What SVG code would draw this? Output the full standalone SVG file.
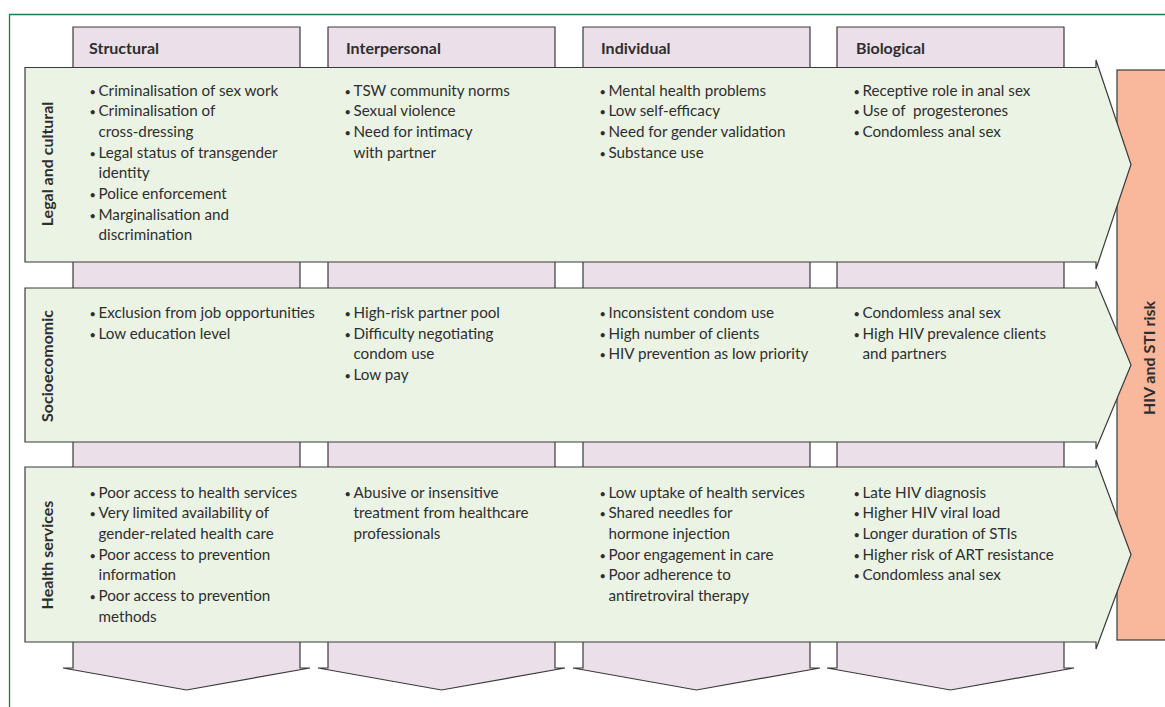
<svg xmlns="http://www.w3.org/2000/svg" width="1165" height="707" viewBox="0 0 1165 707">
<style>
.frame{fill:none;stroke:#1a7d50;stroke-width:1.3}
.col{fill:#ebdfe9;stroke:#3a3a3a;stroke-width:1.2}
.row{fill:#ebf3e5;stroke:#3a3a3a;stroke-width:1.2}
.risk{fill:#f9b89c;stroke:#3a3a3a;stroke-width:1.2}
.t{font-family:Lato,"Open Sans","Liberation Sans",sans-serif;font-size:15.2px;fill:#2e2e2e}
.b{font-size:11px}
.h{font-family:Lato,"Open Sans","Liberation Sans",sans-serif;font-size:16px;font-weight:bold;fill:#2e2e2e}
</style>
<rect width="1165" height="707" fill="#fff"/>
<path class="frame" d="M9.5,707 V14.5 H1165"/>
<g id="columns">
<g id="col-structural"><polygon class="col" points="73,27 300,27 300,668 310,668 186.5,690 63,668 73,668"/><text class="h" x="89" y="54">Structural</text></g>
<g id="col-interpersonal"><polygon class="col" points="328,27 555,27 555,668 565,668 441.5,690 318,668 328,668"/><text class="h" x="346" y="54">Interpersonal</text></g>
<g id="col-individual"><polygon class="col" points="583,27 810,27 810,668 820,668 696.5,690 573,668 583,668"/><text class="h" x="601" y="54">Individual</text></g>
<g id="col-biological"><polygon class="col" points="837,27 1064,27 1064,668 1074,668 950.5,690 827,668 837,668"/><text class="h" x="856" y="54">Biological</text></g>
</g>
<g id="risk"><rect class="risk" x="1117" y="70" width="60" height="570"/><text class="h" transform="translate(1155,358) rotate(-90)" text-anchor="middle">HIV and STI risk</text></g>
<g id="row-legal">
<polygon class="row" points="25,67.5 1096,67.5 1096,60 1131,164.5 1096,269 1096,262 25,262"/>
<text class="h" transform="translate(52.5,164) rotate(-90)" text-anchor="middle">Legal and cultural</text>
<text class="t" y="95.5"><tspan class="b" x="89.5">•</tspan><tspan x="98.5">Criminalisation of sex work</tspan></text>
<text class="t" y="116.2"><tspan class="b" x="89.5">•</tspan><tspan x="98.5">Criminalisation of</tspan></text>
<text class="t" x="98.5" y="136.9">cross-dressing</text>
<text class="t" y="157.6"><tspan class="b" x="89.5">•</tspan><tspan x="98.5">Legal status of transgender</tspan></text>
<text class="t" x="98.5" y="178.3">identity</text>
<text class="t" y="199"><tspan class="b" x="89.5">•</tspan><tspan x="98.5">Police enforcement</tspan></text>
<text class="t" y="219.7"><tspan class="b" x="89.5">•</tspan><tspan x="98.5">Marginalisation and</tspan></text>
<text class="t" x="98.5" y="240.4">discrimination</text>
<text class="t" y="95.5"><tspan class="b" x="344.5">•</tspan><tspan x="353.5">TSW community norms</tspan></text>
<text class="t" y="116.2"><tspan class="b" x="344.5">•</tspan><tspan x="353.5">Sexual violence</tspan></text>
<text class="t" y="136.9"><tspan class="b" x="344.5">•</tspan><tspan x="353.5">Need for intimacy</tspan></text>
<text class="t" x="353.5" y="157.6">with partner</text>
<text class="t" y="95.5"><tspan class="b" x="599.5">•</tspan><tspan x="608.5">Mental health problems</tspan></text>
<text class="t" y="116.2"><tspan class="b" x="599.5">•</tspan><tspan x="608.5">Low self-efficacy</tspan></text>
<text class="t" y="136.9"><tspan class="b" x="599.5">•</tspan><tspan x="608.5">Need for gender validation</tspan></text>
<text class="t" y="157.6"><tspan class="b" x="599.5">•</tspan><tspan x="608.5">Substance use</tspan></text>
<text class="t" y="95.5"><tspan class="b" x="853.5">•</tspan><tspan x="862.5">Receptive role in anal sex</tspan></text>
<text class="t" y="116.2"><tspan class="b" x="853.5">•</tspan><tspan x="862.5" xml:space="preserve">Use of  progesterones</tspan></text>
<text class="t" y="136.9"><tspan class="b" x="853.5">•</tspan><tspan x="862.5">Condomless anal sex</tspan></text>
</g>
<g id="row-socio">
<polygon class="row" points="25,288 1096,288 1096,281 1131,365 1096,449 1096,442 25,442"/>
<text class="h" transform="translate(52.5,366) rotate(-90)" text-anchor="middle">Socioecomomic</text>
<text class="t" y="318"><tspan class="b" x="89.5">•</tspan><tspan x="98.5">Exclusion from job opportunities</tspan></text>
<text class="t" y="338.7"><tspan class="b" x="89.5">•</tspan><tspan x="98.5">Low education level</tspan></text>
<text class="t" y="318"><tspan class="b" x="344.5">•</tspan><tspan x="353.5">High-risk partner pool</tspan></text>
<text class="t" y="338.7"><tspan class="b" x="344.5">•</tspan><tspan x="353.5">Difficulty negotiating</tspan></text>
<text class="t" x="353.5" y="359.4">condom use</text>
<text class="t" y="380.1"><tspan class="b" x="344.5">•</tspan><tspan x="353.5">Low pay</tspan></text>
<text class="t" y="318"><tspan class="b" x="599.5">•</tspan><tspan x="608.5">Inconsistent condom use</tspan></text>
<text class="t" y="338.7"><tspan class="b" x="599.5">•</tspan><tspan x="608.5">High number of clients</tspan></text>
<text class="t" y="359.4"><tspan class="b" x="599.5">•</tspan><tspan x="608.5">HIV prevention as low priority</tspan></text>
<text class="t" y="318"><tspan class="b" x="853.5">•</tspan><tspan x="862.5">Condomless anal sex</tspan></text>
<text class="t" y="338.7"><tspan class="b" x="853.5">•</tspan><tspan x="862.5">High HIV prevalence clients</tspan></text>
<text class="t" x="862.5" y="359.4">and partners</text>
</g>
<g id="row-health">
<polygon class="row" points="25,467 1096,467 1096,460 1131,554.5 1096,649 1096,642 25,642"/>
<text class="h" transform="translate(52.5,555) rotate(-90)" text-anchor="middle">Health services</text>
<text class="t" y="497.5"><tspan class="b" x="89.5">•</tspan><tspan x="98.5">Poor access to health services</tspan></text>
<text class="t" y="518.2"><tspan class="b" x="89.5">•</tspan><tspan x="98.5">Very limited availability of</tspan></text>
<text class="t" x="98.5" y="538.9">gender-related health care</text>
<text class="t" y="559.6"><tspan class="b" x="89.5">•</tspan><tspan x="98.5">Poor access to prevention</tspan></text>
<text class="t" x="98.5" y="580.3">information</text>
<text class="t" y="601"><tspan class="b" x="89.5">•</tspan><tspan x="98.5">Poor access to prevention</tspan></text>
<text class="t" x="98.5" y="621.7">methods</text>
<text class="t" y="497.5"><tspan class="b" x="344.5">•</tspan><tspan x="353.5">Abusive or insensitive</tspan></text>
<text class="t" x="353.5" y="518.2">treatment from healthcare</text>
<text class="t" x="353.5" y="538.9">professionals</text>
<text class="t" y="497.5"><tspan class="b" x="599.5">•</tspan><tspan x="608.5">Low uptake of health services</tspan></text>
<text class="t" y="518.2"><tspan class="b" x="599.5">•</tspan><tspan x="608.5">Shared needles for</tspan></text>
<text class="t" x="608.5" y="538.9">hormone injection</text>
<text class="t" y="559.6"><tspan class="b" x="599.5">•</tspan><tspan x="608.5">Poor engagement in care</tspan></text>
<text class="t" y="580.3"><tspan class="b" x="599.5">•</tspan><tspan x="608.5">Poor adherence to</tspan></text>
<text class="t" x="608.5" y="601">antiretroviral therapy</text>
<text class="t" y="497.5"><tspan class="b" x="853.5">•</tspan><tspan x="862.5">Late HIV diagnosis</tspan></text>
<text class="t" y="518.2"><tspan class="b" x="853.5">•</tspan><tspan x="862.5">Higher HIV viral load</tspan></text>
<text class="t" y="538.9"><tspan class="b" x="853.5">•</tspan><tspan x="862.5">Longer duration of STIs</tspan></text>
<text class="t" y="559.6"><tspan class="b" x="853.5">•</tspan><tspan x="862.5">Higher risk of ART resistance</tspan></text>
<text class="t" y="580.3"><tspan class="b" x="853.5">•</tspan><tspan x="862.5">Condomless anal sex</tspan></text>
</g>
<g id="connectors"></g>
</svg>
